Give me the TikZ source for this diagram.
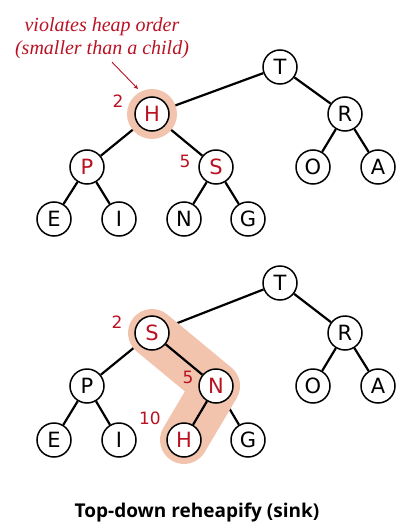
\documentclass[tikz,border=0pt]{standalone}
\usepackage{fontspec}
\setmainfont{Liberation Serif}
\setsansfont{DejaVu Sans}
\newfontfamily\titlefont{Open Sans}
\usetikzlibrary{backgrounds}
\definecolor{bookred}{RGB}{185,18,35}
\definecolor{peach}{RGB}{242,196,174}
\tikzset{
	key/.style={circle,draw,line width=1.5pt,fill=white,minimum size=34pt,inner sep=0pt,font=\sffamily\fontsize{21}{21}\selectfont},
	hot/.style={key,text=bookred},
	idx/.style={text=bookred,font=\sffamily\fontsize{17}{17}\selectfont},
	link/.style={line width=2.2pt},
}
\begin{document}
\begin{tikzpicture}[x=1pt,y=-1pt,>=stealth]
	\useasboundingbox (0,0) rectangle (414,524);
	% top heap: H is out of place
	\node[key] (t1) at (280,67) {T};
	\node[hot] (h1) at (152,114) {H};
	\node[key] (r1) at (345,114) {R};
	\node[hot] (p1) at (87,167) {P};
	\node[hot] (s1) at (216,167) {S};
	\node[key] (o1) at (313,167) {O};
	\node[key] (a1) at (378,167) {A};
	\node[key] (e1) at (54,219) {E};
	\node[key] (i1) at (119,219) {I};
	\node[key] (n1) at (184,219) {N};
	\node[key] (g1) at (248,219) {G};
	\node[idx] (k1) at (118,101) {2};
	\node[idx] (k2) at (185,161) {5};
	\node[text=bookred,align=center,font=\itshape\fontsize{20}{23}\selectfont] (note) at (102,38) {violates heap order\\(smaller than a child)};
	\coordinate (tip) at (138,89);
	\draw[->,bookred,line width=0.9pt] ([xshift=10pt]note.south) -- (tip);
	% bottom heap: after the sink
	\node[key] (t2) at (280,283) {T};
	\node[hot] (s2) at (152,333) {S};
	\node[key] (r2) at (345,333) {R};
	\node[key] (p2) at (87,386) {P};
	\node[hot] (n2) at (216,386) {N};
	\node[key] (o2) at (313,386) {O};
	\node[key] (a2) at (378,386) {A};
	\node[key] (e2) at (54,440) {E};
	\node[key] (i2) at (119,440) {I};
	\node[hot] (h2) at (184,440) {H};
	\node[key] (g2) at (248,440) {G};
	\node[idx] (k3) at (117,322) {2};
	\node[idx] (k4) at (188,377) {5};
	\node[idx] (k5) at (150,418) {10};
	\begin{scope}[on background layer]
		\draw[link] (t1)--(h1) (t1)--(r1) (h1)--(p1) (h1)--(s1) (r1)--(o1) (r1)--(a1)
			(p1)--(e1) (p1)--(i1) (s1)--(n1) (s1)--(g1);
		\draw[link] (t2)--(s2) (t2)--(r2) (s2)--(p2) (r2)--(o2) (r2)--(a2)
			(p2)--(e2) (p2)--(i2) (n2)--(g2);
		\fill[peach] (h1.center) circle (25pt);
		\draw[peach,line width=48pt,line cap=round,line join=round] (s2.center)--(n2.center)--(h2.center);
	\end{scope}
	\draw[link] (s2)--(n2) (n2)--(h2);
	\node[font=\titlefont\bfseries\fontsize{19}{19}\selectfont] (title) at (197,513) {Top-down reheapify (sink)};
\end{tikzpicture}
\end{document}
